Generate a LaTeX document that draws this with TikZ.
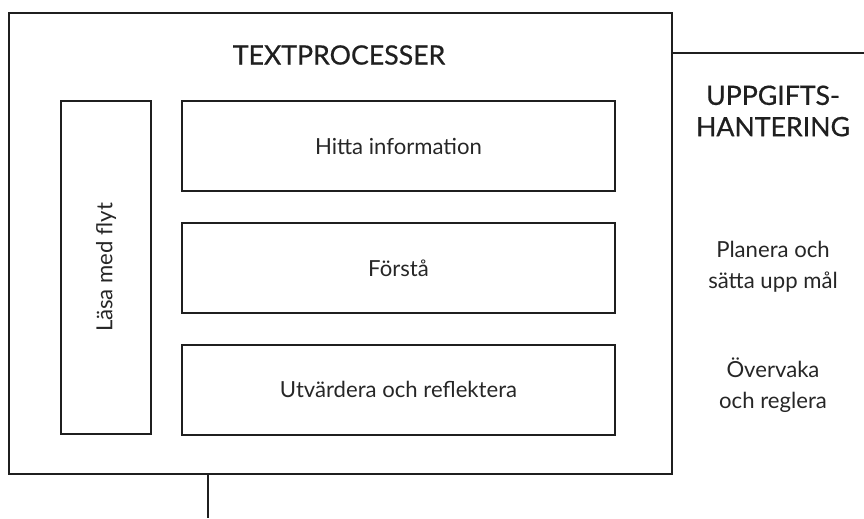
\documentclass[tikz,border=0pt]{standalone}
\usepackage{fontspec}
\setmainfont{Lato}
\newfontfamily\semib[FakeBold=0.6]{Lato}
\begin{document}
\begin{tikzpicture}[x=0.75pt,y=-0.75pt,
  box/.style={draw=black!88,line width=1.5pt,inner sep=0pt,outer sep=0pt,align=center,font=\fontsize{16.6}{23}\selectfont,text=black!85},
  lbl/.style={align=center,inner sep=0pt,font=\fontsize{16.6}{23.2}\selectfont,text=black!85},
  head/.style={align=center,inner sep=0pt,font=\semib\fontsize{20}{23.5}\selectfont,text=black!88},
  conn/.style={draw=black!88,line width=1.5pt}]
\useasboundingbox (0,0) rectangle (864,518);
\node[box,minimum width=497.6pt,minimum height=345.4pt] (outer) at (340.25,243.75) {};
\node[head] (tp) at (339,55) {TEXTPROCESSER};
\node[box,minimum width=67.5pt,minimum height=249.75pt] (lasa) at (106,267.5) {};
\node[lbl,rotate=90] (lasat) at (lasa.center) {Läsa med flyt};
\node[box,minimum width=324.75pt,minimum height=67.5pt] (hitta) at (398.5,146) {Hitta information};
\node[box,minimum width=324.75pt,minimum height=67.5pt] (forsta) at (398.5,268) {Förstå};
\node[box,minimum width=324.75pt,minimum height=67.5pt] (utv) at (398.5,389.5) {Utvärdera och reflektera};
\coordinate (rend) at (864,53);
\coordinate (bend) at (208,518);
\draw[conn] (outer.east |- rend) -- (rend);
\draw[conn] (outer.south -| bend) -- (bend);
\node[head] (upp) at (773,111) {UPPGIFTS-\\HANTERING};
\node[lbl] (plan) at (773,266.5) {Planera och\\sätta upp mål};
\node[lbl] (overv) at (773,385) {Övervaka\\och reglera};
\end{tikzpicture}
\end{document}
